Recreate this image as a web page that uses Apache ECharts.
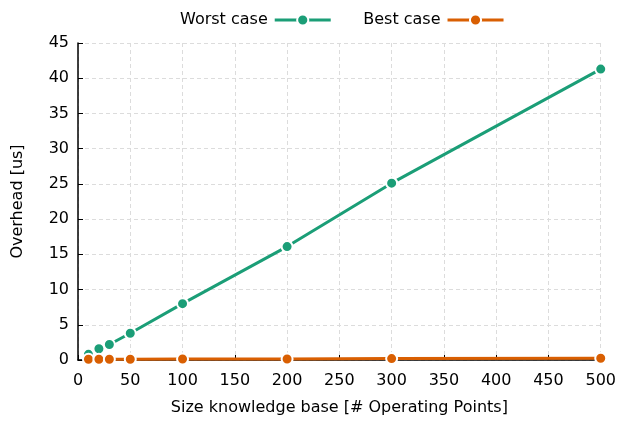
<!DOCTYPE html>
<html>
<head>
<meta charset="utf-8">
<script src="https://cdn.jsdelivr.net/npm/echarts@6/dist/echarts.min.js"></script>
<style>
  html, body { margin: 0; padding: 0; background: #fff; }
  #chart { width: 619px; height: 421px; }
</style>
</head>
<body>
<div id="chart"></div>
<script>
// Knowledge-base size (number of operating points)
const sizes = [10, 20, 30, 50, 100, 200, 300, 500];
// Overhead in microseconds
const worstCase = [0.8, 1.6, 2.2, 3.8, 8.0, 16.1, 25.1, 41.3];
const bestCase = [0.1, 0.1, 0.1, 0.1, 0.15, 0.15, 0.2, 0.25];

const FONT = 'DejaVu Sans';
const FONT_SIZE = 16;
const GREEN = '#1b9e77';
const ORANGE = '#d95f02';

function pairs(xs, ys) {
  return xs.map((x, i) => [x, ys[i]]);
}

function lineSeries(name, values, color) {
  return {
    name: name,
    type: 'line',
    data: pairs(sizes, values),
    symbol: 'circle',
    symbolSize: 11,
    showSymbol: true,
    lineStyle: { color: color, width: 3 },
    itemStyle: { color: color, borderColor: '#fff', borderWidth: 2 },
    emphasis: { disabled: true },
    animation: false
  };
}

const chart = echarts.init(document.getElementById('chart'), null, { renderer: 'canvas' });
chart.setOption({
  backgroundColor: '#fff',
  textStyle: { fontFamily: FONT },
  legend: {
    top: 7,
    left: 175,
    align: 'right',
    itemWidth: 56,
    itemHeight: 14,
    itemGap: 31,
    lineStyle: { width: 3 },
    textStyle: { fontFamily: FONT, fontSize: FONT_SIZE, color: '#000', padding: [0, 2, 0, 0] },
    data: ['Worst case', 'Best case']
  },
  grid: { left: 78, right: 18, top: 43, bottom: 57 },
  xAxis: {
    type: 'value',
    min: 0, max: 500, interval: 50,
    name: 'Size knowledge base [# Operating Points]',
    nameLocation: 'middle',
    nameGap: 40,
    nameTextStyle: { fontFamily: FONT, fontSize: FONT_SIZE, color: '#000' },
    axisLine: { show: true, onZero: false, lineStyle: { color: '#000', width: 1.5 } },
    axisTick: { show: true, inside: true, length: 5, lineStyle: { color: '#000' } },
    axisLabel: { fontFamily: FONT, fontSize: FONT_SIZE, color: '#000', margin: 13 },
    splitLine: { show: true, lineStyle: { color: '#dcdcdc', type: [4, 3], width: 1 } }
  },
  yAxis: {
    type: 'value',
    min: 0, max: 45, interval: 5,
    name: 'Overhead [us]',
    nameLocation: 'middle',
    nameGap: 52,
    nameTextStyle: { fontFamily: FONT, fontSize: FONT_SIZE, color: '#000' },
    axisLine: { show: true, lineStyle: { color: '#000', width: 1.5 } },
    axisTick: { show: true, inside: true, length: 5, lineStyle: { color: '#000' } },
    axisLabel: { fontFamily: FONT, fontSize: FONT_SIZE, color: '#000', margin: 9 },
    splitLine: { show: true, lineStyle: { color: '#dcdcdc', type: [4, 3], width: 1 } }
  },
  series: [
    lineSeries('Worst case', worstCase, GREEN),
    lineSeries('Best case', bestCase, ORANGE)
  ]
});
</script>
</body>
</html>
